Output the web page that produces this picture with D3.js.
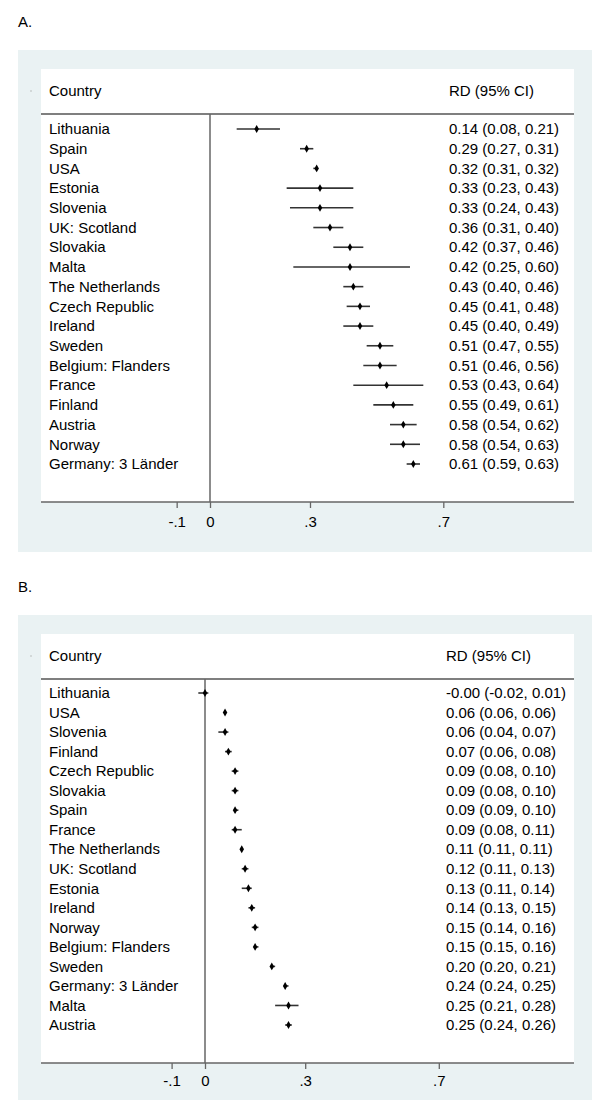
<!DOCTYPE html>
<html><head><meta charset="utf-8">
<script src="https://cdn.jsdelivr.net/npm/d3@7"></script>
<style>html,body{margin:0;padding:0;background:#fff;}svg{display:block;}text{font-family:"Liberation Sans",Arial,sans-serif;fill:#000;}</style>
</head><body><div id="chart"></div>
<script>
// ---------- Data ----------
const countriesA = ["Lithuania","Spain","USA","Estonia","Slovenia","UK: Scotland","Slovakia","Malta","The Netherlands","Czech Republic","Ireland","Sweden","Belgium: Flanders","France","Finland","Austria","Norway","Germany: 3 Länder"];
const estA = [0.14,0.29,0.32,0.33,0.33,0.36,0.42,0.42,0.43,0.45,0.45,0.51,0.51,0.53,0.55,0.58,0.58,0.61];
const lowA = [0.08,0.27,0.31,0.23,0.24,0.31,0.37,0.25,0.40,0.41,0.40,0.47,0.46,0.43,0.49,0.54,0.54,0.59];
const highA = [0.21,0.31,0.32,0.43,0.43,0.40,0.46,0.60,0.46,0.48,0.49,0.55,0.56,0.64,0.61,0.62,0.63,0.63];
const textA = ["0.14 (0.08, 0.21)","0.29 (0.27, 0.31)","0.32 (0.31, 0.32)","0.33 (0.23, 0.43)","0.33 (0.24, 0.43)","0.36 (0.31, 0.40)","0.42 (0.37, 0.46)","0.42 (0.25, 0.60)","0.43 (0.40, 0.46)","0.45 (0.41, 0.48)","0.45 (0.40, 0.49)","0.51 (0.47, 0.55)","0.51 (0.46, 0.56)","0.53 (0.43, 0.64)","0.55 (0.49, 0.61)","0.58 (0.54, 0.62)","0.58 (0.54, 0.63)","0.61 (0.59, 0.63)"];

const countriesB = ["Lithuania","USA","Slovenia","Finland","Czech Republic","Slovakia","Spain","France","The Netherlands","UK: Scotland","Estonia","Ireland","Norway","Belgium: Flanders","Sweden","Germany: 3 Länder","Malta","Austria"];
const estB = [0.00,0.06,0.06,0.07,0.09,0.09,0.09,0.09,0.11,0.12,0.13,0.14,0.15,0.15,0.20,0.24,0.25,0.25];
const lowB = [-0.02,0.06,0.04,0.06,0.08,0.08,0.09,0.08,0.11,0.11,0.11,0.13,0.14,0.15,0.20,0.24,0.21,0.24];
const highB = [0.01,0.06,0.07,0.08,0.10,0.10,0.10,0.11,0.11,0.13,0.14,0.15,0.16,0.16,0.21,0.25,0.28,0.26];
const textB = ["-0.00 (-0.02, 0.01)","0.06 (0.06, 0.06)","0.06 (0.04, 0.07)","0.07 (0.06, 0.08)","0.09 (0.08, 0.10)","0.09 (0.08, 0.10)","0.09 (0.09, 0.10)","0.09 (0.08, 0.11)","0.11 (0.11, 0.11)","0.12 (0.11, 0.13)","0.13 (0.11, 0.14)","0.14 (0.13, 0.15)","0.15 (0.14, 0.16)","0.15 (0.15, 0.16)","0.20 (0.20, 0.21)","0.24 (0.24, 0.25)","0.25 (0.21, 0.28)","0.25 (0.24, 0.26)"];

const tickValues = [-0.1, 0, 0.3, 0.7];
const tickLabels = ["-.1", "0", ".3", ".7"];
const headerLeft = "Country";
const headerRight = "RD (95% CI)";

// ---------- Drawing ----------
const W = 600, H = 1102;
const svg = d3.select("#chart").append("svg").attr("width", W).attr("height", H);
svg.append("rect").attr("width", W).attr("height", H).attr("fill", "#fff");

function panel(cfg) {
  const g = svg.append("g");
  // panel title
  g.append("text").attr("x", 18).attr("y", cfg.titleY).attr("font-size", 15).text(cfg.title);
  // outer graph region
  g.append("rect").attr("x", 18).attr("y", cfg.outerTop).attr("width", 574).attr("height", cfg.outerBottom - cfg.outerTop).attr("fill", "#eaf2f3");
  // plot region
  g.append("rect").attr("x", 41).attr("y", cfg.innerTop).attr("width", 533).attr("height", cfg.axisY - cfg.innerTop).attr("fill", "#fff");

  const x = d3.scaleLinear().domain([-0.1, 0.7]).range([cfg.zeroX - 0.1 * cfg.unit, cfg.zeroX + 0.7 * cfg.unit]);
  const y = d3.scalePoint().domain(d3.range(cfg.countries.length)).range([cfg.firstRow, cfg.lastRow]);

  // tiny artifact dot
  g.append("circle").attr("cx", 31).attr("cy", cfg.headerY).attr("r", 0.7).attr("fill", "#aaa");
  // header
  g.append("text").attr("x", 49).attr("y", cfg.headerY).attr("dy", "0.35em").attr("font-size", 15).text(headerLeft);
  g.append("text").attr("x", cfg.textX).attr("y", cfg.headerY).attr("dy", "0.35em").attr("font-size", 15).text(headerRight);
  // separator
  g.append("line").attr("x1", 41).attr("x2", 574).attr("y1", cfg.sepY).attr("y2", cfg.sepY).attr("stroke", "#555").attr("stroke-width", 1.3);
  // zero line
  g.append("line").attr("x1", x(0)).attr("x2", x(0)).attr("y1", cfg.sepY).attr("y2", cfg.axisY).attr("stroke", "#666").attr("stroke-width", 1.5);

  const idx = d3.range(cfg.countries.length);
  g.selectAll(".lab").data(idx).join("text").attr("x", 49).attr("y", i => y(i)).attr("dy", "0.35em").attr("font-size", 15).text(i => cfg.countries[i]);
  g.selectAll(".val").data(idx).join("text").attr("x", cfg.textX).attr("y", i => y(i)).attr("dy", "0.35em").attr("font-size", 15).text(i => cfg.text[i]);
  g.selectAll(".ci").data(idx).join("line")
    .attr("x1", i => x(cfg.low[i])).attr("x2", i => x(cfg.high[i]))
    .attr("y1", i => y(i)).attr("y2", i => y(i))
    .attr("stroke", "#333").attr("stroke-width", 1.6);
  g.selectAll(".pt").data(idx).join("path")
    .attr("transform", i => `translate(${x(cfg.est[i])},${y(i)})`)
    .attr("d", d3.symbol().type(d3.symbolDiamond).size(18))
    .attr("fill", "#000");

  // axis line
  g.append("line").attr("x1", 41).attr("x2", 574).attr("y1", cfg.axisY).attr("y2", cfg.axisY).attr("stroke", "#666").attr("stroke-width", 1.5);
  const axis = d3.axisBottom(x).tickValues(tickValues).tickFormat((d, i) => tickLabels[i]).tickSize(6).tickSizeOuter(0).tickPadding(cfg.tickPad);
  const ax = g.append("g").attr("transform", `translate(0,${cfg.axisY})`).call(axis);
  ax.select(".domain").remove();
  ax.selectAll(".tick line").attr("stroke", "#666").attr("stroke-width", 1.3);
  ax.selectAll(".tick text").attr("font-size", 15).attr("font-family", '"Liberation Sans",Arial,sans-serif').attr("fill", "#000");
}

panel({title: "A.", titleY: 27, outerTop: 50, outerBottom: 552, innerTop: 69, axisY: 502,
  headerY: 91, sepY: 114, firstRow: 129, lastRow: 464, zeroX: 210, unit: 333.3, textX: 449, tickPad: 8,
  countries: countriesA, est: estA, low: lowA, high: highA, text: textA});
panel({title: "B.", titleY: 592, outerTop: 615, outerBottom: 1100, innerTop: 634, axisY: 1063,
  headerY: 656, sepY: 679, firstRow: 693, lastRow: 1025, zeroX: 205, unit: 334, textX: 446, tickPad: 6.5,
  countries: countriesB, est: estB, low: lowB, high: highB, text: textB});
</script></body></html>
